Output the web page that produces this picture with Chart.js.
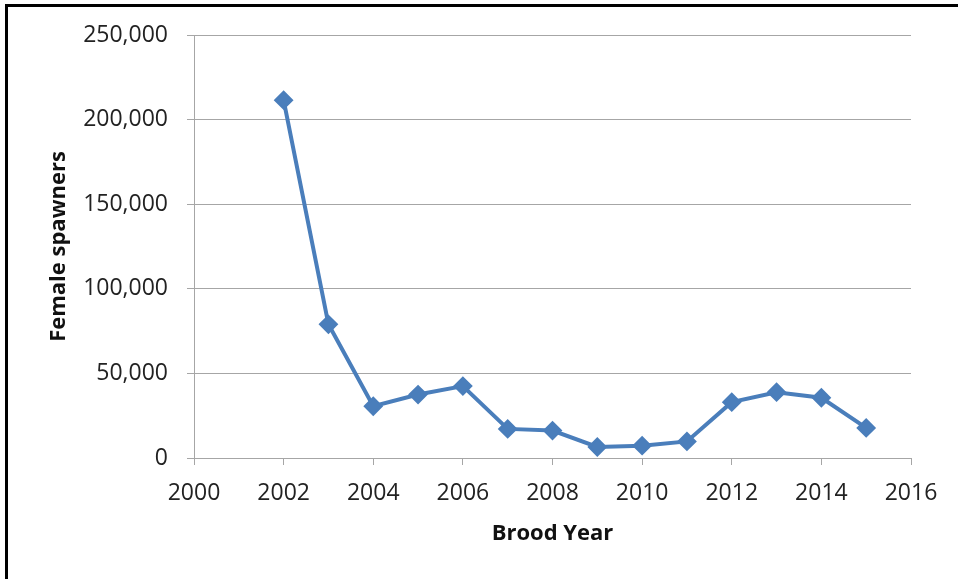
<!DOCTYPE html>
<html>
<head>
<meta charset="utf-8">
<script src="https://cdn.jsdelivr.net/npm/chart.js@4.4.0/dist/chart.umd.min.js"></script>
<style>
  html, body { margin: 0; padding: 0; background: #fff; overflow: hidden; }
  #wrap { position: relative; width: 958px; height: 579px; }
  #frame {
    position: absolute; left: 5px; top: 4px; width: 1000px; height: 1000px;
    border-top: 3px solid #000; border-left: 3px solid #000;
    pointer-events: none;
  }
</style>
</head>
<body>
<div id="wrap">
  <canvas id="spawners-chart" width="958" height="579"></canvas>
  <div id="frame"></div>
</div>
<script>
// female spawners by brood year
const years = [2002, 2003, 2004, 2005, 2006, 2007, 2008, 2009, 2010, 2011, 2012, 2013, 2014, 2015];
const spawners = [211500, 79000, 30600, 37500, 42500, 17200, 16200, 6500, 7300, 9800, 33000, 38900, 35600, 17800];
const yearTicks = [2000, 2002, 2004, 2006, 2008, 2010, 2012, 2014, 2016];
const spawnerTicks = [0, 50000, 100000, 150000, 200000, 250000];

const AXIS_GREY = '#a6a6a6';
const LINE_BLUE = '#4a7ebb';

const SPAWN_Chart = document.getElementById('spawners-chart');

const spawnersChart = new Chart(SPAWN_Chart, {
    type: 'line',
    data: {
        datasets: [
            {
                label: 'Female spawners',
                data: years.map((yr, i) => ({ x: yr, y: spawners[i] })),
                borderColor: LINE_BLUE,
                backgroundColor: LINE_BLUE,
                borderWidth: 4,
                pointStyle: 'rectRot',
                pointRadius: 8.5,
                pointBorderWidth: 2,
                pointBackgroundColor: LINE_BLUE,
                pointBorderColor: LINE_BLUE,
                tension: 0,
            },
        ],
    },
    options: {
        responsive: false,
        animation: false,
        locale: 'en-US',
        layout: {
            padding: { left: 0, top: 35, right: 47, bottom: 0 }
        },
        plugins: {
            legend: { display: false },
            tooltip: { enabled: false },
        },
        scales: {
            x: {
                type: 'linear',
                min: 2000,
                max: 2016,
                afterBuildTicks: (scale) => {
                    scale.ticks = yearTicks.map(v => ({ value: v }));
                },
                afterFit: (scale) => { scale.height = 121; },
                grid: {
                    drawOnChartArea: false,
                    drawTicks: true,
                    tickLength: 7,
                    color: AXIS_GREY,
                },
                border: { color: AXIS_GREY, width: 1 },
                ticks: {
                    padding: 15,
                    maxRotation: 0,
                    color: '#222',
                    font: { family: 'Open Sans', size: 23 },
                    callback: (v) => String(v),
                },
                title: {
                    display: true,
                    text: 'Brood Year',
                    color: '#111',
                    font: { family: 'Open Sans', size: 22, weight: 'bold' },
                    padding: { top: 0, bottom: 32 },
                },
            },
            y: {
                min: 0,
                max: 250000,
                afterBuildTicks: (scale) => {
                    scale.ticks = spawnerTicks.map(v => ({ value: v }));
                },
                afterFit: (scale) => { scale.width = 194; },
                grid: {
                    drawTicks: true,
                    tickLength: 7,
                    color: AXIS_GREY,
                },
                border: { color: AXIS_GREY, width: 1 },
                ticks: {
                    padding: 19,
                    color: '#222',
                    font: { family: 'Open Sans', size: 23 },
                },
                title: {
                    display: true,
                    text: 'Female spawners',
                    color: '#111',
                    font: { family: 'Open Sans', size: 22, weight: 'bold' },
                    padding: { top: 46, bottom: 0 },
                },
            },
        },
    },
});
</script>
</body>
</html>
